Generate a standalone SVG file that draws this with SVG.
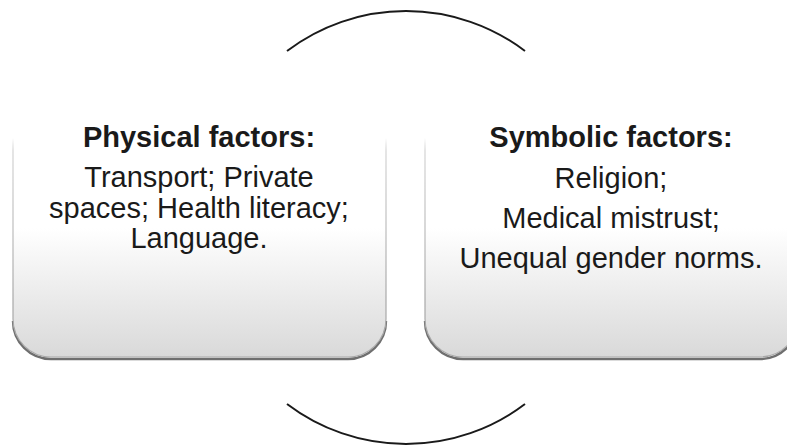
<svg xmlns="http://www.w3.org/2000/svg" width="787" height="447" viewBox="0 0 787 447">
  <defs>
    <linearGradient id="boxFill" gradientUnits="userSpaceOnUse" x1="0" y1="228" x2="0" y2="357">
      <stop offset="0" stop-color="#ffffff"/>
      <stop offset="1" stop-color="#d9d9d9"/>
    </linearGradient>
    <linearGradient id="boxEdge" gradientUnits="userSpaceOnUse" x1="0" y1="138" x2="0" y2="300">
      <stop offset="0" stop-color="#c8c8c8" stop-opacity="0"/>
      <stop offset="0.08" stop-color="#d4d4d4" stop-opacity="1"/>
      <stop offset="1" stop-color="#a8a8a8"/>
    </linearGradient>
  </defs>
  <style>
    .fill { fill: url(#boxFill); stroke: none; }
    .edge { fill: none; stroke: url(#boxEdge); stroke-width: 1.2; }
    .shadow { fill: none; stroke: #6f6f6f; stroke-width: 2.4; }
    .title { font-family: "Liberation Sans", Arial, sans-serif; font-weight: bold; font-size: 29px; fill: #1a1a1a; text-anchor: middle; }
    .body { font-family: "Liberation Sans", Arial, sans-serif; font-size: 29px; fill: #1a1a1a; text-anchor: middle; }
    .arc { fill: none; stroke: #1a1a1a; stroke-width: 2; }
  </style>

  <g id="connectors">
    <path class="arc" d="M287,51 A197,197 0 0 1 525,51"/>
    <path class="arc" d="M287,404 A197,197 0 0 0 525,404"/>
  </g>

  <g id="physical">
    <path class="shadow" d="M13,321 A38,38 0 0 0 51,359 H348 A38,38 0 0 0 386,321"/>
    <path class="fill" d="M13,120 V319 A38,38 0 0 0 51,357 H348 A38,38 0 0 0 386,319 V120 Z"/>
    <path class="edge" d="M13,138 V319 A38,38 0 0 0 51,357 H348 A38,38 0 0 0 386,319 V138"/>
    <text class="title" x="199" y="147">Physical factors:</text>
    <text class="body" x="199" y="187">Transport; Private</text>
    <text class="body" x="199" y="218">spaces; Health literacy;</text>
    <text class="body" x="199" y="248">Language.</text>
  </g>

  <g id="symbolic">
    <path class="shadow" d="M425,321 A38,38 0 0 0 463,359 H760 A38,38 0 0 0 798,321"/>
    <path class="fill" d="M425,120 V319 A38,38 0 0 0 463,357 H760 A38,38 0 0 0 798,319 V120 Z"/>
    <path class="edge" d="M425,138 V319 A38,38 0 0 0 463,357 H760 A38,38 0 0 0 798,319 V138"/>
    <text class="title" x="611" y="147">Symbolic factors:</text>
    <text class="body" x="611" y="188">Religion;</text>
    <text class="body" x="611" y="228">Medical mistrust;</text>
    <text class="body" x="611" y="268">Unequal gender norms.</text>
  </g>
</svg>
